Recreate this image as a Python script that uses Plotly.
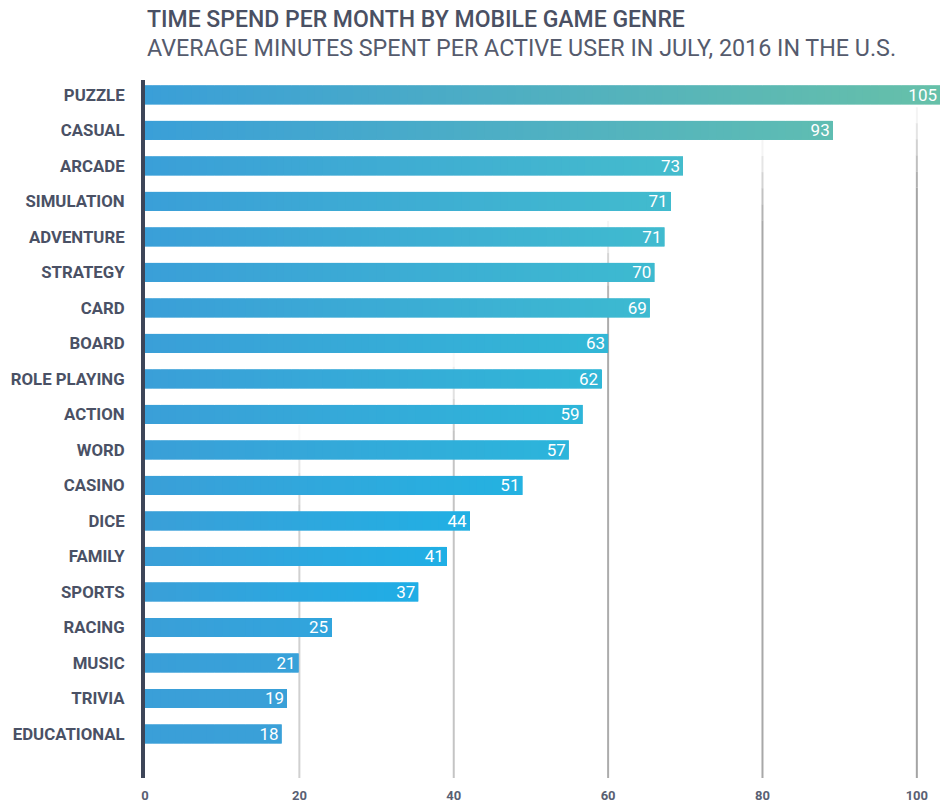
import plotly.graph_objects as go

# ---- data ----
genres = ["PUZZLE", "CASUAL", "ARCADE", "SIMULATION", "ADVENTURE", "STRATEGY", "CARD",
          "BOARD", "ROLE PLAYING", "ACTION", "WORD", "CASINO", "DICE", "FAMILY",
          "SPORTS", "RACING", "MUSIC", "TRIVIA", "EDUCATIONAL"]
# printed values on the bars
minutes_label = [105, 93, 73, 71, 71, 70, 69, 63, 62, 59, 57, 51, 44, 41, 37, 25, 21, 19, 18]
# bar lengths as drawn in the source graphic (read against its axis)
bar_length = [103, 89.1, 69.7, 68.1, 67.3, 66.0, 65.4, 60.0, 59.1, 56.7, 54.9, 48.9,
              42.1, 39.1, 35.4, 24.1, 19.9, 18.4, 17.7]
x_ticks = [0, 20, 40, 60, 80, 100]

title = "TIME SPEND PER MONTH BY MOBILE GAME GENRE"
subtitle = "AVERAGE MINUTES SPENT PER ACTIVE USER IN JULY, 2016 IN THE U.S."

# ---- style ----
START = (58, 159, 216)
END_STOPS = [(18, (58, 160, 216)), (36, (30, 174, 230)), (49, (36, 178, 225)),
             (60, (50, 183, 214)), (70, (69, 188, 204)), (89, (95, 189, 178)),
             (103, (102, 192, 169))]


def lerp(a, b, t):
    return tuple(a[i] + (b[i] - a[i]) * t for i in range(3))


def end_color(L):
    if L <= END_STOPS[0][0]:
        return END_STOPS[0][1]
    for (l0, c0), (l1, c1) in zip(END_STOPS[:-1], END_STOPS[1:]):
        if L <= l1:
            return lerp(c0, c1, (L - l0) / (l1 - l0))
    return END_STOPS[-1][1]


def rgb(c):
    return "rgb(%d,%d,%d)" % tuple(int(round(v)) for v in c)


fig = go.Figure()

# gradient bars: each bar is built from overlapping slices (every point covered by
# exactly two slices so the anti-aliased edges stay uniform along the bar)
step = 1.0
maxlen = max(bar_length)
k = -1
while k * step < maxlen:
    seg_start = max(0.0, k * step)
    vis_mid = max(0, k) * step + step / 2
    bases, xs, cols = [], [], []
    for L in bar_length:
        seg_end = min(L, (k + 2) * step)
        if L > seg_start and seg_end > seg_start:
            bases.append(seg_start)
            xs.append(seg_end - seg_start)
            t = min(1.0, vis_mid / L)
            cols.append(rgb(lerp(START, end_color(L), t)))
        else:
            bases.append(0)
            xs.append(None)
            cols.append("rgba(0,0,0,0)")
    fig.add_trace(go.Bar(
        y=genres, x=xs, base=bases, orientation="h",
        marker=dict(color=cols, line=dict(width=0)),
        hoverinfo="skip", showlegend=False,
    ))
    k += 1

# value labels
fig.add_trace(go.Bar(
    y=genres, x=bar_length, orientation="h",
    marker=dict(color="rgba(0,0,0,0)", line=dict(width=0)),
    text=[str(v) for v in minutes_label],
    textposition="inside", insidetextanchor="end", constraintext="none",
    textangle=0,
    textfont=dict(family="Roboto, sans-serif", size=17, color="white"),
    hoverinfo="skip", showlegend=False,
))

# gridlines with fading top
grid_start = {20: 0.506, 40: 0.612, 60: 0.798, 80: 0.914, 100: 0.961}
grid_rgb = {20: (208, 208, 208), 40: (196, 196, 196), 60: (172, 172, 172),
            80: (168, 168, 168), 100: (164, 164, 164)}
fade = 0.115
alphas = [0.12, 0.3, 0.5, 0.7, 0.88]
shapes = []
for gv in x_ticks[1:]:
    top = grid_start[gv]
    c = grid_rgb[gv]
    seg = fade / len(alphas)
    for i, a in enumerate(alphas):
        y1 = top - i * seg
        y0 = top - (i + 1) * seg
        shapes.append(dict(type="line", xref="x", yref="paper", x0=gv, x1=gv,
                           y0=y0, y1=y1, layer="below",
                           line=dict(color="rgba(%d,%d,%d,%.2f)" % (c + (a,)), width=2)))
    shapes.append(dict(type="line", xref="x", yref="paper", x0=gv, x1=gv,
                       y0=0, y1=top - fade, layer="below",
                       line=dict(color="rgb(%d,%d,%d)" % c, width=2)))

fig.update_layout(
    template="none",
    width=940, height=803,
    margin=dict(l=145, r=0, t=80, b=25, autoexpand=False),
    paper_bgcolor="white", plot_bgcolor="white",
    barmode="overlay", bargap=0.465,
    shapes=shapes,
    xaxis=dict(range=[0, 103], tickvals=x_ticks, showgrid=False, zeroline=False,
               showline=False, ticks="", ticklabelstandoff=8,
               tickfont=dict(family="Roboto, sans-serif", size=13, color="#596073",
                             weight="bold"),
               automargin=False, fixedrange=True),
    yaxis=dict(type="category", categoryorder="array", categoryarray=genres,
               range=[19.24, -0.42], showgrid=False, zeroline=False,
               showline=True, linecolor="#3d4558", linewidth=4, ticks="",
               ticklabelstandoff=13,
               tickfont=dict(family="Roboto, sans-serif", size=16.8, color="#4a5165",
                             weight="bold"),
               automargin=False, fixedrange=True),
    annotations=[
        dict(text=title, xref="paper", yref="paper", x=0, y=1 + 60 / 698,
             xanchor="left", yanchor="middle", showarrow=False,
             font=dict(family="Roboto, sans-serif", size=23, color="#4a5063", weight=500)),
        dict(text=subtitle, xref="paper", yref="paper", x=0, y=1 + 32 / 698,
             xanchor="left", yanchor="middle", showarrow=False,
             font=dict(family="Roboto, sans-serif", size=23.3, color="#555b6d", weight=400)),
    ],
)

fig.write_html("out.html", config={"displayModeBar": False},
               post_script="document.body.style.margin='0';")
